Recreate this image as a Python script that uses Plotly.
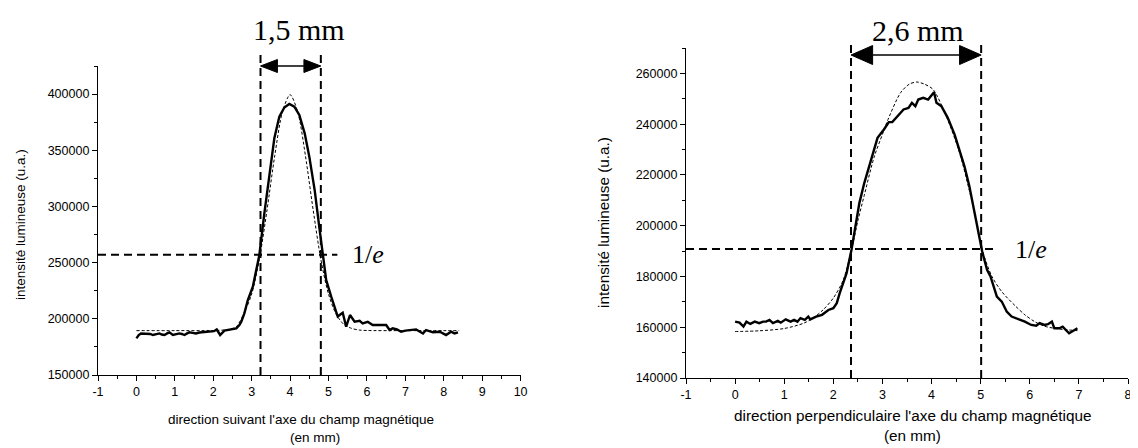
"""Two light-intensity profiles with Gaussian fits and 1/e widths."""

import plotly.graph_objects as go

# the page body adds an 8 px margin, so the figure is shifted by that much
OFF = 8
W, H = 1130, 440

# --- left panel: along the magnetic field axis -----------------------------
X_PAR = [
    0.00, 0.06, 0.12, 0.20, 0.29, 0.36, 0.43, 0.52, 0.60, 0.66, 0.73, 0.80,
    0.86, 0.95, 1.03, 1.12, 1.18, 1.25, 1.32, 1.38, 1.46, 1.55, 1.64, 1.73,
    1.82, 1.94, 2.02, 2.09, 2.18, 2.29, 2.42, 2.60, 2.68, 2.73, 2.81, 2.90,
    3.03, 3.20, 3.33, 3.46, 3.59, 3.72, 3.85, 3.98, 4.11, 4.24, 4.38, 4.50,
    4.64, 4.77, 4.85, 4.94, 5.07, 5.16, 5.24, 5.29, 5.37, 5.46, 5.56, 5.68,
    5.81, 5.89, 6.02, 6.15, 6.30, 6.50, 6.59, 6.67, 6.78, 6.89, 7.00, 7.10,
    7.28, 7.46, 7.54, 7.72, 7.90, 7.98, 8.06, 8.19, 8.28, 8.37,
]
I_PAR = [
    182600, 185500, 187000, 186800, 186100, 186500, 185600, 186500, 187000,
    186000, 185600, 187000, 188000, 185600, 186500, 187000, 186500, 185600,
    187000, 188000, 187500, 187000, 187800, 188000, 188000, 188500, 189000,
    190500, 185600, 189500, 190600, 191500, 194500, 197400, 204900, 216750,
    228600, 256800, 293900, 329500, 360700, 379900, 388100, 391200, 388800,
    381400, 365100, 344300, 314600, 279000, 255300, 234500, 219700, 210800,
    202000, 203400, 205400, 193000, 203400, 197400, 198300, 196000, 197400,
    194500, 194500, 194500, 190000, 191500, 190500, 188500, 189500, 190000,
    190600, 187000, 190000, 188000, 188500, 187000, 185600, 188500, 187000,
    188000,
]
X_PAR_FIT = [
    0.0, 1.0, 2.0, 2.4, 2.6, 2.8, 3.0, 3.2, 3.4, 3.6, 3.8, 4.0, 4.2, 4.4,
    4.6, 4.8, 5.0, 5.2, 5.4, 5.6, 5.8, 6.0, 7.0, 8.4,
]
I_PAR_FIT = [
    189500, 189500, 189600, 190500, 193000, 205000, 222000, 253000, 297000,
    345000, 384000, 399500, 384000, 345000, 297000, 253000, 222000, 204000,
    195000, 191500, 190000, 189600, 189500, 189500,
]
PAR_EDGES = [3.23, 4.80]
PAR_LEVEL = 257000
PAR_LABEL = "1,5 mm"
PAR_XTICKS = [-1, 0, 1, 2, 3, 4, 5, 6, 7, 8, 9, 10]

# --- right panel: perpendicular to the magnetic field axis -----------------
X_PERP = [
    0.00, 0.09, 0.17, 0.23, 0.31, 0.40, 0.49, 0.57, 0.63, 0.70, 0.77, 0.87,
    0.93, 1.03, 1.13, 1.20, 1.27, 1.33, 1.42, 1.49, 1.53, 1.65, 1.77, 1.90,
    2.00, 2.07, 2.13, 2.20, 2.27, 2.37, 2.43, 2.53, 2.63, 2.73, 2.80, 2.90,
    3.03, 3.13, 3.20, 3.30, 3.43, 3.53, 3.60, 3.67, 3.73, 3.83, 3.93, 4.05,
    4.10, 4.20, 4.33, 4.47, 4.57, 4.67, 4.77, 4.87, 4.97, 5.03, 5.13, 5.20,
    5.33, 5.43, 5.53, 5.63, 5.77, 5.90, 6.03, 6.13, 6.20, 6.30, 6.37, 6.45,
    6.50, 6.60, 6.67, 6.73, 6.80, 6.87, 6.97,
]
I_PERP = [
    162200, 161800, 160250, 162200, 161300, 162200, 161600, 162200, 162200,
    162900, 161600, 162500, 161800, 163100, 162200, 162900, 162200, 163600,
    162900, 164200, 163100, 164200, 164900, 166800, 167500, 169500, 173400,
    177400, 181300, 190500, 197100, 208900, 216800, 223400, 227300, 234600,
    237900, 240800, 240800, 243100, 245800, 246400, 248400, 247100, 249700,
    250400, 249700, 252600, 248400, 247100, 242500, 235900, 230000, 223400,
    215500, 206300, 195800, 189900, 182600, 180000, 172100, 170100, 166200,
    164200, 163200, 162200, 160900, 160600, 161600, 160900, 161200, 162200,
    159600, 159600, 160200, 158900, 157600, 158400, 159600,
]
X_PERP_FIT = [
    0.0, 0.5, 1.0, 1.4, 1.6, 1.8, 2.0, 2.2, 2.37, 2.5, 2.63, 2.83, 3.0, 3.1,
    3.37, 3.55, 3.7, 3.85, 4.03, 4.3, 4.57, 4.83, 5.03, 5.23, 5.43, 5.7, 5.9,
    6.1, 6.3, 6.6, 7.0,
]
I_PERP_FIT = [
    158300, 158600, 159500, 161600, 163800, 167000, 171500, 178500, 190500,
    202000, 212000, 227000, 236000, 241200, 252400, 255800, 256600, 255800,
    253700, 243100, 228700, 208900, 190500, 180000, 174000, 168500, 164900,
    162200, 160400, 159300, 158600,
]
PERP_EDGES = [2.36, 5.01]
PERP_LEVEL = 190800
PERP_LABEL = "2,6 mm"
PERP_XTICKS = [-1, 0, 1, 2, 3, 4, 5, 6, 7, 8]

SANS = "Liberation Sans, Arial, sans-serif"
SERIF = "Liberation Serif, Times New Roman, serif"


def _px(x: float) -> float:
    """Window pixel column -> paper x."""
    return (x - OFF) / W


def _py(y: float) -> float:
    """Window pixel row -> paper y."""
    return 1 - (y - OFF) / H


PANELS = [
    dict(
        x=X_PAR, y=I_PAR, xf=X_PAR_FIT, yf=I_PAR_FIT, xticks=PAR_XTICKS,
        edges=PAR_EDGES, level=PAR_LEVEL, label=PAR_LABEL,
        xa="x", ya="y",
        xdom=[_px(98), _px(520.6)], ydom=[_py(375), _py(66)],
        xrng=[-1, 10], yrng=[150000, 425000], ydt=50000,
        line_top=50, arrow_y=66, head_l=0.44, head_h=6.5,
        level_end=5.23, e_x=5.55, label_x=4.24, label_y=29,
        xtitle="direction suivant l'axe du champ magnétique",
        xt1=(301, 419), xt2=(315, 437), ytitle=(20, 225), tsize=13.5,
    ),
    dict(
        x=X_PERP, y=I_PERP, xf=X_PERP_FIT, yf=I_PERP_FIT, xticks=PERP_XTICKS,
        edges=PERP_EDGES, level=PERP_LEVEL, label=PERP_LABEL,
        xa="x2", ya="y2",
        xdom=[_px(686), _px(1128)], ydom=[_py(378), _py(48)],
        xrng=[-1, 8], yrng=[140000, 270000], ydt=20000,
        line_top=43, arrow_y=55, head_l=0.44, head_h=9.5,
        level_end=5.3, e_x=5.65, label_x=3.72, label_y=30,
        xtitle="direction perpendiculaire l'axe du champ magnétique",
        xt1=(913, 415), xt2=(912, 435), ytitle=(603, 223), tsize=15.3,
    ),
]

_AXIS = dict(
    showline=True,
    linecolor="black",
    linewidth=1.3,
    ticks="outside",
    ticklen=5,
    tickwidth=1.2,
    tickcolor="black",
    showgrid=False,
    zeroline=False,
    automargin=False,
    ticklabeloverflow="allow",
    tickfont=dict(family=SANS, size=12.5, color="black"),
)


def build_figure() -> go.Figure:
    fig = go.Figure()
    shapes, notes = [], []
    dash = "8px,5px"

    for i, p in enumerate(PANELS):
        n = "" if i == 0 else str(i + 1)
        fig.add_trace(
            go.Scatter(
                x=p["xf"], y=p["yf"], xaxis=p["xa"], yaxis=p["ya"],
                mode="lines",
                line=dict(color="black", width=1, dash="3px,2px", shape="spline", smoothing=0.8),
                hoverinfo="skip", showlegend=False,
            )
        )
        fig.add_trace(
            go.Scatter(
                x=p["x"], y=p["y"], xaxis=p["xa"], yaxis=p["ya"],
                mode="lines",
                line=dict(color="black", width=2.4),
                showlegend=False,
            )
        )

        fig.layout["xaxis" + n] = dict(
            _AXIS, domain=p["xdom"], range=p["xrng"], anchor=p["ya"],
            tickmode="array", tickvals=p["xticks"], ticktext=[str(t) for t in p["xticks"]],
            minor=dict(ticks="outside", tick0=0, dtick=0.5, ticklen=3, tickcolor="black", tickwidth=1.2),
        )
        fig.layout["yaxis" + n] = dict(
            _AXIS, domain=p["ydom"], range=p["yrng"], anchor=p["xa"],
            tick0=0, dtick=p["ydt"], tickformat="d",
            minor=dict(ticks="outside", dtick=p["ydt"] / 2, ticklen=3, tickcolor="black", tickwidth=1.2),
        )

        # 1/e edges
        y_bot, y_top = p["ydom"][0], _py(p["line_top"])
        for e in p["edges"]:
            shapes.append(dict(
                type="line", xref=p["xa"], yref="paper", x0=e, x1=e, y0=y_bot, y1=y_top,
                line=dict(color="black", width=2, dash=dash),
            ))
        shapes.append(dict(
            type="line", xref=p["xa"], yref=p["ya"],
            x0=p["xrng"][0], x1=p["level_end"], y0=p["level"], y1=p["level"],
            line=dict(color="black", width=2, dash=dash),
        ))

        # double arrow between the edges
        e0, e1 = p["edges"]
        ay = _py(p["arrow_y"])
        hh = p["head_h"] / H
        hl = p["head_l"]
        shapes.append(dict(
            type="line", xref=p["xa"], yref="paper", x0=e0 + hl, x1=e1 - hl, y0=ay, y1=ay,
            line=dict(color="black", width=1.5),
        ))
        for tip, base in ((e0, e0 + hl), (e1, e1 - hl)):
            shapes.append(dict(
                type="path", xref=p["xa"], yref="paper",
                path=f"M {tip},{ay} L {base},{ay + hh} L {base},{ay - hh} Z",
                fillcolor="black", line=dict(color="black", width=1),
            ))

        notes.append(dict(
            x=p["label_x"], y=_py(p["label_y"]), xref=p["xa"], yref="paper",
            xanchor="center", yanchor="middle",
            text=p["label"], showarrow=False,
            font=dict(family=SERIF, size=30, color="black"),
        ))
        notes.append(dict(
            x=p["e_x"], y=p["level"], xref=p["xa"], yref=p["ya"],
            xanchor="left", yanchor="middle",
            text="1/<i>e</i>", showarrow=False,
            font=dict(family=SERIF, size=26, color="black"),
        ))

        # axis titles
        tfont = dict(family=SANS, size=p["tsize"], color="black")
        for text, (tx, ty) in ((p["xtitle"], p["xt1"]), ("(en mm)", p["xt2"])):
            notes.append(dict(
                x=_px(tx), y=_py(ty), xref="paper", yref="paper",
                xanchor="center", yanchor="middle",
                text=text, showarrow=False, font=tfont,
            ))
        notes.append(dict(
            x=_px(p["ytitle"][0]), y=_py(p["ytitle"][1]), xref="paper", yref="paper",
            xanchor="center", yanchor="middle",
            text="intensité lumineuse (u.a.)", textangle=-90, showarrow=False, font=tfont,
        ))

    fig.update_layout(
        width=W,
        height=H,
        paper_bgcolor="white",
        plot_bgcolor="white",
        margin=dict(l=0, r=0, t=0, b=0),
        showlegend=False,
        shapes=shapes,
        annotations=notes,
        font=dict(family=SANS, color="black"),
    )
    return fig


fig = build_figure()
fig.write_html("out.html")
